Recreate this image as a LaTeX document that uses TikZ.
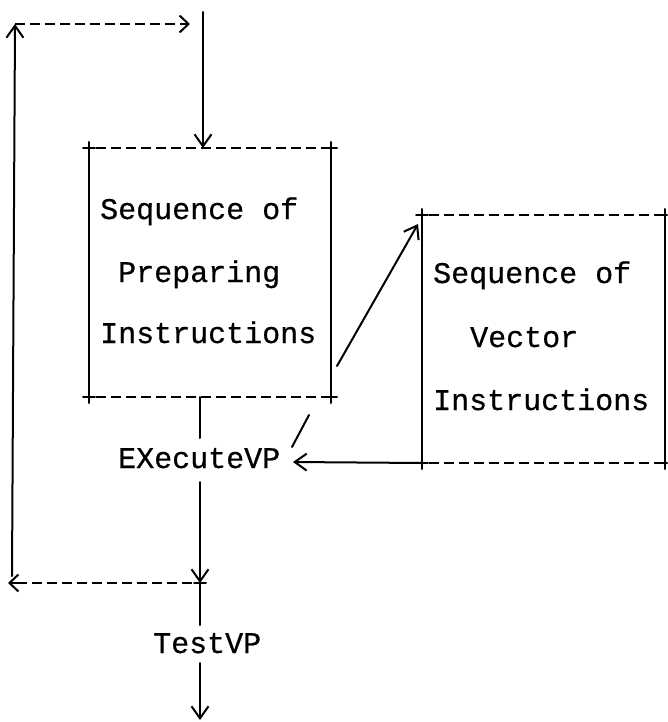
\documentclass[tikz,border=0pt]{standalone}
\usepackage{fontspec}
\newfontfamily\tw[FakeBold=0.6]{Liberation Mono}
\usetikzlibrary{arrows.meta,calc}
\begin{document}
\begin{tikzpicture}[x=1pt,y=-1pt,
  solidl/.style={line width=2pt,line cap=round},
  dashl/.style={line width=2.8pt,dash pattern=on 10pt off 5pt},
  arr/.style={-{Straight Barb[length=12pt,width=17pt,line width=2pt]}},
  boxn/.style={draw=none,inner sep=0,outer sep=0},
  txt/.style={font=\tw\fontsize{30}{36}\selectfont,inner sep=0,anchor=base west}]
\useasboundingbox (0,0) rectangle (667,722);
% boxes
\node[boxn,minimum width=242pt,minimum height=249pt] (boxA) at (210,272.5) {};
\node[boxn,minimum width=243pt,minimum height=248pt] (boxB) at (543.5,339) {};
% box A sides
\draw[solidl] ([yshift=6pt]boxA.north west) -- ([yshift=-6pt]boxA.south west);
\draw[solidl] ([yshift=6pt]boxA.north east) -- ([yshift=-6pt]boxA.south east);
\draw[dashl] ([xshift=7pt]boxA.north west) -- ([xshift=-4pt]boxA.north east);
\draw[dashl] ([xshift=7pt]boxA.south west) -- ([xshift=-4pt]boxA.south east);
\foreach \c in {north west,north east,south west,south east}
  \draw[solidl] ([xshift=-6pt]boxA.\c) -- ([xshift=6pt]boxA.\c);
% box B sides
\draw[solidl] ([yshift=6pt]boxB.north west) -- ([yshift=-6pt]boxB.south west);
\draw[solidl] ([yshift=6pt]boxB.north east) -- ([yshift=-6pt]boxB.south east);
\draw[dashl] ([xshift=7pt]boxB.north west) -- ([xshift=-4pt]boxB.north east);
\draw[dashl] ([xshift=7pt]boxB.south west) -- ([xshift=-4pt]boxB.south east);
\foreach \c in {north west,south west}
  \draw[solidl] ([xshift=-6pt]boxB.\c) -- ([xshift=6pt]boxB.\c);
\foreach \c in {north east,south east}
  \draw[solidl] ([xshift=-6pt]boxB.\c) -- ([xshift=2pt]boxB.\c);
% texts
\node[txt] (a1) at (100,219) {Sequence of};
\node[txt] (a2) at (118,282) {Preparing};
\node[txt] (a3) at (100,343) {Instructions};
\node[txt] (b1) at (433,283) {Sequence of};
\node[txt] (b2) at (470,347) {Vector};
\node[txt] (b3) at (433,410) {Instructions};
\node[txt] (exec) at (118,468) {EXecuteVP};
\node[txt] (test) at (153,653) {TestVP};
% coordinates
\coordinate (topin) at (203,12);
\coordinate (ltop) at (15,24);
\coordinate (lbot) at (12,576);
\coordinate (ldashend) at (190,24);
\coordinate (cx) at (200,583);
\coordinate (bl) at (8,583);
\coordinate (eu) at (200,438);
\coordinate (ed) at (200,482);
\coordinate (tu) at (200,625);
\coordinate (td) at (200,663);
\coordinate (out) at (200,720);
\coordinate (dg1) at (337,366);
\coordinate (dg2) at (418,224);
\coordinate (s1) at (309,415);
\coordinate (s2) at (292,447);
\coordinate (ein) at (293,462);
% connectors
\draw[solidl,arr] (topin) -- (topin |- boxA.north);
\draw[solidl,arr] (lbot) -- (ltop);
\draw[dashl] (ltop) -- ([xshift=-8pt]ldashend);
\draw[solidl,-{Straight Barb[length=9pt,width=17pt,line width=2pt]}] ([xshift=-9pt]ldashend) -- (ldashend);
\draw[solidl] (boxA.south -| eu) -- (eu);
\draw[solidl,arr] (ed) -- (cx);
\draw[solidl] ([xshift=-6pt]cx) -- ([xshift=6pt]cx);
\draw[dashl] ([xshift=-8pt]cx) -- ([xshift=10pt]bl);
\draw[solidl,-{Straight Barb[length=9pt,width=17pt,line width=2pt]}] ([xshift=10pt]bl) -- (bl);
\draw[solidl] (cx) -- (tu);
\draw[solidl,arr] (td) -- (out);
\draw[solidl,arr] (dg1) -- (dg2);
\draw[solidl] (s1) -- (s2);
\draw[solidl,arr] (boxB.south west) -- (ein);
\end{tikzpicture}
\end{document}
